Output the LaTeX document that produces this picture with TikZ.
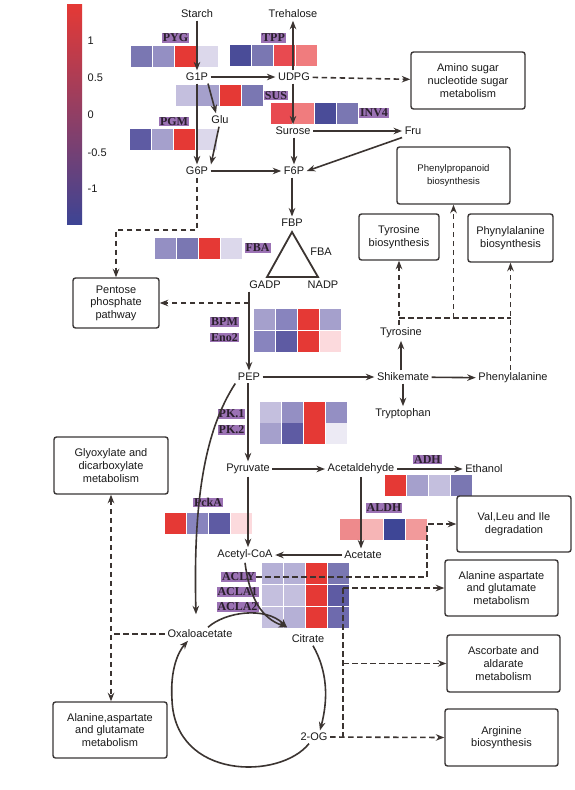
\documentclass[tikz,border=0pt]{standalone}
\usepackage{fontspec}
\setmainfont{Liberation Sans}
\newfontfamily\labfont{Liberation Serif}
\usetikzlibrary{arrows.meta}
\definecolor{R}{HTML}{E53935}
\definecolor{RR}{HTML}{E84A50}
\definecolor{RP1}{HTML}{EE8A8C}
\definecolor{RP2}{HTML}{F6B5B6}
\definecolor{RP3}{HTML}{FCDADD}
\definecolor{RP4}{HTML}{F07C7E}
\definecolor{RP5}{HTML}{F29A9B}
\definecolor{B1}{HTML}{3E4696}
\definecolor{B2}{HTML}{4A4C98}
\definecolor{B3}{HTML}{5E5BA3}
\definecolor{B4}{HTML}{6E6AAD}
\definecolor{B5}{HTML}{7A77B2}
\definecolor{B6}{HTML}{8884BE}
\definecolor{B7}{HTML}{948FC3}
\definecolor{B8}{HTML}{A5A0CC}
\definecolor{B9}{HTML}{B5B0D6}
\definecolor{B10}{HTML}{C4BFDE}
\definecolor{B11}{HTML}{DCD8EB}
\definecolor{B12}{HTML}{ECEAF4}
\definecolor{CBR}{HTML}{E53935}
\definecolor{CBB}{HTML}{3D4494}
\definecolor{enzc}{HTML}{9B72B4}
\definecolor{enztc}{HTML}{2A1F2C}
\definecolor{arrc}{HTML}{3B3431}
\definecolor{boxc}{HTML}{3A3636}
\definecolor{txtc}{HTML}{1A1A1A}
\newcommand{\hrow}[6]{\foreach \cc [count=\ii from 0] in {#3,#4,#5,#6}{\fill[fill=\cc] ({#1+22*\ii},{#2}) rectangle ++(21,20.5);}}
\tikzset{
 txt/.style={font=\fontsize{11}{12}\selectfont, text=txtc, inner sep=2.5pt},
 box/.style={draw=boxc, line width=1.4pt, rounded corners=2.5pt, fill=white, align=center, font=\fontsize{11}{12.6}\selectfont, text=txtc, inner sep=2pt},
 enz/.style={fill=enzc, text=enztc, font=\labfont\bfseries\fontsize{12}{12}\selectfont, inner xsep=1pt, inner ysep=1pt, text height=7.8pt, text depth=0pt},
 arr/.style={draw=arrc, line width=1.6pt, -{Stealth[length=8.5pt,width=6.5pt]}},
 darr/.style={arr, dash pattern=on 5.5pt off 3.5pt},
 dline/.style={draw=arrc, line width=1.6pt, dash pattern=on 5.5pt off 3.5pt},
}
\begin{document}
\begin{tikzpicture}[x=1pt,y=-1pt]
\fill[white] (0,0) rectangle (574,790);
\useasboundingbox (0,0) rectangle (574,790);
% colour bar
\shade[top color=CBR, middle color=white, bottom color=CBB] (67,4) rectangle (82,224);
\node[txt, anchor=west] (cb1) at (85,41) {1};
\node[txt, anchor=west] (cb2) at (85,78) {0.5};
\node[txt, anchor=west] (cb3) at (85,115) {0};
\node[txt, anchor=west] (cb4) at (85,153) {-0.5};
\node[txt, anchor=west] (cb5) at (85,189) {-1};
% heat map rows
\hrow{131}{46}{B5}{B7}{R}{B11}
\hrow{230}{45}{B2}{B5}{RR}{RP4}
\hrow{176}{85}{B10}{B8}{R}{B5}
\hrow{271}{103}{RR}{RP4}{B2}{B5}
\hrow{130}{129}{B3}{B8}{R}{B11}
\hrow{155}{238}{B7}{B5}{R}{B11}
\hrow{254}{309}{B8}{B6}{R}{B8}
\hrow{254}{331}{B6}{B3}{R}{RP3}
\hrow{260}{402}{B10}{B7}{R}{B7}
\hrow{260}{423}{B8}{B3}{R}{B12}
\hrow{385}{475}{R}{B8}{B10}{B5}
\hrow{340}{519}{RP1}{RP2}{B1}{RP5}
\hrow{165}{513}{R}{B6}{B3}{RP3}
\hrow{262}{563}{B9}{B9}{R}{B5}
\hrow{262}{585}{B10}{B10}{R}{B3}
\hrow{262}{607}{B10}{B9}{R}{B4}
% enzyme labels
\node[enz] (pyg) at (175.5,38) {PYG};
\node[enz] (tpp) at (273.5,38) {TPP};
\node[enz] (sus) at (276,95.5) {SUS};
\node[enz] (inv) at (374,113) {INV4};
\node[enz] (pgm) at (174,121.5) {PGM};
\node[enz] (fbal) at (257.5,248) {FBA};
\node[enz] (bpm) at (224.5,322) {BPM};
\node[enz] (eno) at (224.5,337.5) {Eno2};
\node[enz] (pk1) at (231.5,414) {PK.1};
\node[enz] (pk2) at (231.5,430) {PK.2};
\node[enz] (adh) at (427.5,459.5) {ADH};
\node[enz] (aldh) at (384,508) {ALDH};
\node[enz] (pcka) at (208,502.5) {PckA};
\node[enz] (acly) at (238.5,577) {ACLY};
\node[enz] (acla1) at (237.5,592) {ACLA1};
\node[enz] (acla2) at (237.5,607) {ACLA2};
% metabolites
\node[txt] (starch) at (197,14) {Starch};
\node[txt] (treh) at (293,14) {Trehalose};
\node[txt] (g1p) at (197,77) {G1P};
\node[txt] (udpg) at (294,77) {UDPG};
\node[txt] (glu) at (220,120) {Glu};
\node[txt] (sur) at (293,131) {Surose};
\node[txt] (fru) at (413,131) {Fru};
\node[txt] (g6p) at (197,171) {G6P};
\node[txt] (f6p) at (294,171) {F6P};
\node[txt] (fbp) at (292,223) {FBP};
\node[txt] (fbat) at (321,252) {FBA};
\node[txt] (gadp) at (265,285) {GADP};
\node[txt] (nadp) at (323,285) {NADP};
\node[txt] (pep) at (249,377) {PEP};
\node[txt] (shik) at (403,377) {Shikemate};
\node[txt] (phe) at (513,378) {Phenylalanine};
\node[txt] (tyr) at (401,333) {Tyrosine};
\node[txt] (trp) at (403,414) {Tryptophan};
\node[txt] (pyr) at (248,469) {Pyruvate};
\node[txt] (acald) at (361,469) {Acetaldehyde};
\node[txt] (eth) at (484,469) {Ethanol};
\node[txt] (acet) at (363,555) {Acetate};
\node[txt] (acoa) at (245,555) {Acetyl-CoA};
\node[txt] (cit) at (308,639) {Citrate};
\node[txt] (oxa) at (200,634) {Oxaloacetate};
\node[txt] (og) at (314,737) {2-OG};
% pathway boxes
\node[box, minimum width=114pt, minimum height=57pt] (amino) at (468,80.5) {Amino sugar\\nucleotide sugar\\metabolism};
\node[box, minimum width=113pt, minimum height=57pt, font=\fontsize{9.6}{12.6}\selectfont] (phenprop) at (453.5,175.5) {Phenylpropanoid\\biosynthesis};
\node[box, minimum width=80pt, minimum height=46pt] (tyrbio) at (399,237) {Tyrosine\\biosynthesis};
\node[box, minimum width=85pt, minimum height=48pt] (phebio) at (510.5,238) {Phynylalanine\\biosynthesis};
\node[box, minimum width=86pt, minimum height=50pt] (pentose) at (116,303) {Pentose\\phosphate\\pathway};
\node[box, minimum width=114pt, minimum height=57pt] (glyox) at (111,465.5) {Glyoxylate and\\dicarboxylate\\metabolism};
\node[box, minimum width=114pt, minimum height=56pt] (alaL) at (110,730) {Alanine,aspartate\\and glutamate\\metabolism};
\node[box, minimum width=114pt, minimum height=56pt] (val) at (514,524) {Val,Leu and Ile\\degradation};
\node[box, minimum width=113pt, minimum height=56pt] (alaR) at (501.5,588) {Alanine aspartate\\and glutamate\\metabolism};
\node[box, minimum width=113pt, minimum height=57pt] (asc) at (503.5,663.5) {Ascorbate and\\aldarate\\metabolism};
\node[box, minimum width=113pt, minimum height=57pt] (arg) at (501.5,737.5) {Arginine\\biosynthesis};
% FBA triangle
\draw[draw=arrc, line width=1.8pt, line join=miter] (292,232) -- (267,277) -- (318,277) -- cycle;
% solid arrows
\draw[arr] (starch) -- (g1p);
\draw[arr] (g1p) -- (udpg);
\draw[arr] (udpg.north -| treh) -- (treh);
\draw[arr] (udpg.south -| sur) -- (sur);
\draw[arr] ([xshift=11pt]g1p.south) -- ([xshift=-4pt]glu.north);
\draw[arr] ([xshift=-1pt]glu.south) -- ([xshift=14pt]g6p.north);
\draw[arr] (g1p) -- (g6p);
\draw[arr] (sur) -- (fru);
\draw[arr] (sur.south -| f6p) -- (f6p);
\draw[arr] (fru.south west) -- (f6p.east);
\draw[arr] (g6p) -- (f6p);
\draw[arr] (f6p.south -| fbp) -- (fbp);
\draw[arr] (gadp.south -| pep) -- (pep);
\draw[arr] (pep) -- (shik);
\draw[arr] (shik) -- (phe);
\draw[arr] (shik.north -| tyr) -- (tyr);
\draw[arr] (shik) -- (trp);
\draw[arr] (pep.south -| pyr) -- (pyr);
\draw[arr] (pyr) -- (acald);
\draw[arr] (acald) -- (eth);
\draw[arr] (acald.south) -- (acald.south |- acet.north);
\draw[arr] (acet) -- (acoa);
\draw[arr] (pyr.south) -- (pyr.south |- acoa.north);
\draw[arr] (pep.south west) .. controls (205,430) and (193,500) .. ([xshift=-4pt,yshift=13pt]oxa.north);
\draw[arr] (acoa.south) .. controls (250,600) and (262,618) .. ([xshift=-21pt,yshift=5pt]cit.north);
\draw[arr] ([xshift=8pt]oxa.north) .. controls (225,612) and (265,606) .. ([xshift=-21pt,yshift=5pt]cit.north);
\draw[arr] ([xshift=5pt]cit.south) .. controls (328,672) and (328,700) .. ([xshift=6pt]og.north);
\draw[arr] ([xshift=-5pt]og.south) .. controls (280,780) and (175,780) .. (172,700) .. controls (170,670) and (178,652) .. ([xshift=-12pt]oxa.south);
% dashed connectors
\draw[darr] (udpg) -- (amino);
\coordinate (pp1) at (197,230);
\draw[darr] (g6p.south) -- (pp1) -| (pentose.north);
\coordinate (gbr) at (249,303);
\draw[darr] (gbr) -- (pentose.east);
\coordinate (dl) at (399,318);
\coordinate (dr) at (511,318);
\draw[dline] (dl) -- (dr);
\draw[darr] (tyr.north -| tyrbio) -- (tyrbio.south);
\draw[darr] (dl -| phenprop) -- (phenprop.south);
\draw[darr] (phe.north -| phebio) -- (phebio.south);
\coordinate (k1) at (427,572);
\draw[darr] (acly.east) -- (acly.east -| k1) -- (k1 |- val.west) -- (val.west);
\coordinate (v1) at (343,588);
\draw[darr] (v1) -- (alaR.west);
\draw[dline] (v1) -- (v1 |- arg.west);
\draw[darr] (v1 |- asc.west) -- (asc.west);
\draw[darr] (og.east) -- (arg.west);
\draw[dline] (oxa.west) -- (oxa.west -| glyox);
\draw[darr, {Stealth[length=8.5pt,width=6.5pt]}-{Stealth[length=8.5pt,width=6.5pt]}] (glyox.south) -- (glyox.south |- alaL.north);
\end{tikzpicture}
\end{document}
